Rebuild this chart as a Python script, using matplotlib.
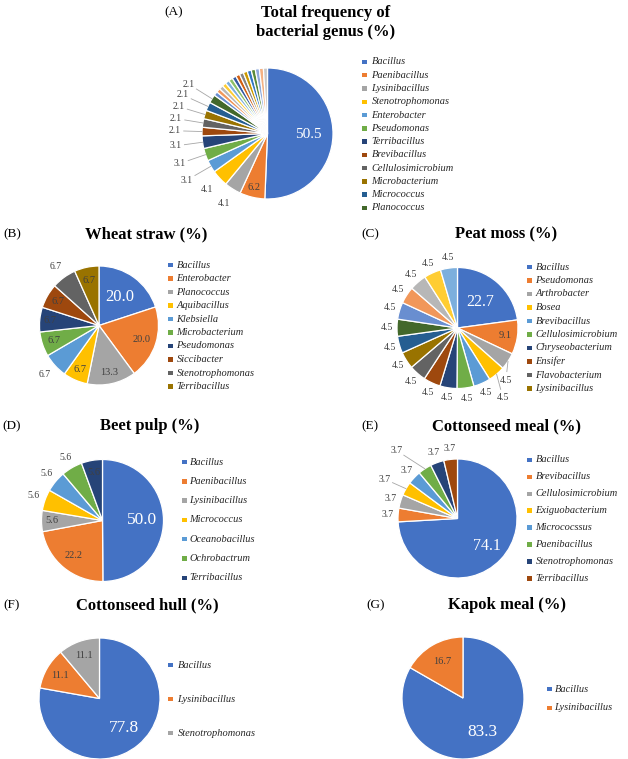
import numpy as np
import matplotlib
matplotlib.use('Agg')
import matplotlib.pyplot as plt
from matplotlib.patches import Rectangle

plt.rcParams['font.family'] = ['Liberation Serif', 'DejaVu Serif']

W, H = 628, 759
DARK = '#404040'
LINE = '#a6a6a6'

# Excel office palette, in slice order
office = ['#4472C4', '#ED7D31', '#A5A5A5', '#FFC000', '#5B9BD5', '#70AD47',
          '#264478', '#9E480E', '#636363', '#997300', '#255E91', '#43682B',
          '#698ED0', '#F1975A', '#B7B7B7', '#FFCD33', '#7CAFDD', '#8CC168',
          '#335AA1', '#D26012', '#848484', '#CC9A00', '#3276C2', '#5A8A39',
          '#8FAADC', '#F4B183', '#C9C9C9']

# ---- data ----
total_names = ['Bacillus', 'Paenibacillus', 'Lysinibacillus', 'Stenotrophomonas',
               'Enterobacter', 'Pseudomonas', 'Terribacillus', 'Brevibacillus',
               'Cellulosimicrobium', 'Microbacterium', 'Micrococcus', 'Planococcus']
total_vals = [50.5, 6.2, 4.1, 4.1, 3.1, 3.1, 3.1, 2.1, 2.1, 2.1, 2.1, 2.1,
              1.0, 1.0, 1.0, 1.0, 1.0, 1.0, 1.0, 1.0, 1.0, 1.0, 1.0, 1.0, 1.0, 1.0, 1.0]

wheat_names = ['Bacillus', 'Enterobacter', 'Planococcus', 'Aquibacillus', 'Klebsiella',
               'Microbacterium', 'Pseudomonas', 'Siccibacter', 'Stenotrophomonas',
               'Terribacillus']
wheat_vals = [20.0, 20.0, 13.3, 6.7, 6.7, 6.7, 6.7, 6.7, 6.7, 6.7]

peat_names = ['Bacillus', 'Pseudomonas', 'Arthrobacter', 'Bosea', 'Brevibacillus',
              'Cellulosimicrobium', 'Chryseobacterium', 'Ensifer', 'Flavobacterium',
              'Lysinibacillus']
peat_vals = [22.7, 9.1, 4.5, 4.5, 4.5, 4.5, 4.5, 4.5, 4.5, 4.5,
             4.5, 4.5, 4.5, 4.5, 4.5, 4.5, 4.5]

beet_names = ['Bacillus', 'Paenibacillus', 'Lysinibacillus', 'Micrococcus',
              'Oceanobacillus', 'Ochrobactrum', 'Terribacillus']
beet_vals = [50.0, 22.2, 5.6, 5.6, 5.6, 5.6, 5.6]

cmeal_names = ['Bacillus', 'Brevibacillus', 'Cellulosimicrobium', 'Exiguobacterium',
               'Micrococssus', 'Paenibacillus', 'Stenotrophomonas', 'Terribacillus']
cmeal_vals = [74.1, 3.7, 3.7, 3.7, 3.7, 3.7, 3.7, 3.7]

chull_names = ['Bacillus', 'Lysinibacillus', 'Stenotrophomonas']
chull_vals = [77.8, 11.1, 11.1]

kapok_names = ['Bacillus', 'Lysinibacillus']
kapok_vals = [83.3, 16.7]


fig = plt.figure(figsize=(W / 100, H / 100), dpi=100)


def fx(x):
    return x / W


def fy(y):
    return 1 - y / H


def panel(tag, tag_x, title, title_x, title_y, center, r, vals, names,
          leg, inside, big_size=11, out_r=1.2, place=None, lines=(), skip=(),
          in_size=7.5, out_size=7, tag_y=None):
    place = place or {}
    cx, cy = center
    fig.text(fx(tag_x), fy(tag_y if tag_y else title_y), tag, ha='center',
             va='center', fontsize=9.5)
    fig.text(fx(title_x), fy(title_y), title, ha='center', va='center',
             fontsize=12, fontweight='bold', linespacing=1.25)

    ax = fig.add_axes([fx(cx - r), fy(cy + r), 2 * r / W, 2 * r / H])
    wedges, _ = ax.pie(vals, colors=office[:len(vals)], startangle=90,
                       counterclock=False, radius=1,
                       wedgeprops=dict(edgecolor='white', linewidth=0.9))
    ax.set_xlim(-1, 1)
    ax.set_ylim(-1, 1)
    ax.axis('off')

    for i, w in enumerate(wedges):
        if i in skip:
            continue
        a = np.deg2rad((w.theta1 + w.theta2) / 2)
        ux, uy = np.cos(a), np.sin(a)
        txt = f'{vals[i]:.1f}'
        if i in inside:
            rr = inside[i]
            if i == 0:
                ax.text(rr * ux, rr * uy, txt, ha='center', va='center',
                        color='white', fontsize=big_size)
            else:
                ax.text(rr * ux, rr * uy, txt, ha='center', va='center',
                        color=DARK, fontsize=in_size)
            continue
        p = place.get(i, out_r)
        if np.isscalar(p):
            px, py = p * ux, p * uy
        else:
            px, py = p
        ax.text(px, py, txt, ha='center', va='center', color=DARK, fontsize=out_size)
        if i in lines:
            dx, dy = ux - px, uy - py
            d = np.hypot(dx, dy)
            ex, ey = px + dx / d * 0.14, py + dy / d * 0.14
            ax.plot([ux, ex], [uy, ey], color=LINE, lw=0.6, clip_on=False)

    mx, tx, y0, step = leg
    for i, name in enumerate(names):
        y = y0 + i * step
        fig.add_artist(Rectangle((fx(mx), fy(y) - 2.2 / H), 4.5 / W, 4.5 / H,
                                 transform=fig.transFigure,
                                 facecolor=office[i], edgecolor='none'))
        fig.text(fx(tx + 1.5), fy(y), name, ha='left', va='center',
                 fontsize=7.5, style='italic', color='#262626')


# (A)
panel('(A)', 174, 'Total frequency of\nbacterial genus (%)', 326, 22.5,
      (267.5, 133.5), 65.5, total_vals, total_names,
      (362, 370, 62, 13.27), inside={0: 0.62, 1: 0.85}, big_size=11,
      place={2: 1.26, 3: 1.26, 4: 1.42, 5: 1.42, 6: 1.42, 7: 1.42, 8: 1.42,
             9: 1.42, 10: 1.42, 11: 1.42},
      lines=(4, 5, 6, 7, 8, 9, 10, 11), skip=tuple(range(12, 27)), tag_y=12)
# (B)
panel('(B)', 12.5, 'Wheat straw (%)', 146, 234, (99, 325.5), 59.5,
      wheat_vals, wheat_names, (168, 175, 265, 13.5),
      inside={0: 0.6, 1: 0.76, 2: 0.81, 3: 0.8, 5: 0.8, 6: 0.82, 7: 0.8, 9: 0.78},
      big_size=12, out_r=1.23)
# (C)
panel('(C)', 370, 'Peat moss (%)', 506, 234, (457.5, 328), 60.5,
      peat_vals, peat_names, (527, 534, 267, 13.5),
      inside={0: 0.57, 1: 0.8}, big_size=11.5, out_r=1.17,
      place={2: (0.8, -0.86), 3: (0.75, -1.15)}, lines=(2, 3))
# (D)
panel('(D)', 12, 'Beet pulp (%)', 149.5, 426, (102.5, 520.5), 61,
      beet_vals, beet_names, (182, 188, 462, 19.3),
      inside={0: 0.65, 1: 0.75, 2: 0.83, 6: 0.8}, big_size=12.5, out_r=1.2)
# (E)
panel('(E)', 370, 'Cottonseed meal (%)', 506, 426, (457.5, 518.5), 59.5,
      cmeal_vals, cmeal_names, (527, 534, 460, 16.9),
      inside={0: 0.67}, big_size=11.5, out_r=1.18,
      place={3: (-1.22, 0.66), 5: (-1.02, 1.14)}, lines=(3, 5))
# (F)
panel('(F)', 12, 'Cottonseed hull (%)', 147.5, 605, (99.5, 698.5), 60.5,
      chull_vals, chull_names, (168, 176, 665, 34),
      inside={0: 0.64, 1: 0.75, 2: 0.76}, big_size=12.5)
# (G)
panel('(G)', 376, 'Kapok meal (%)', 506.5, 605, (463, 698), 61,
      kapok_vals, kapok_names, (547, 553, 689, 19),
      inside={0: 0.64, 1: 0.69}, big_size=12.5)

fig.savefig('out.png', dpi=100)
